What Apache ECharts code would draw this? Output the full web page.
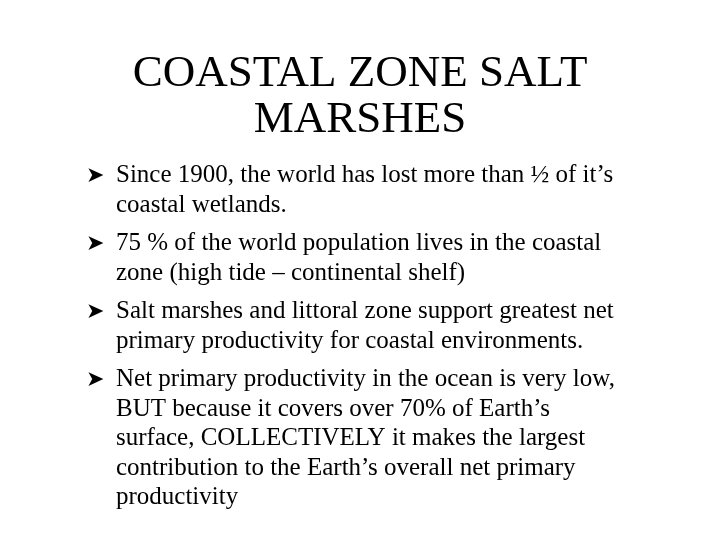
<!DOCTYPE html>
<html>
<head>
<meta charset="utf-8">
<script src="https://cdn.jsdelivr.net/npm/echarts@6/dist/echarts.min.js"></script>
<style>
  html, body { margin: 0; padding: 0; background: #fff; }
  #main { width: 720px; height: 540px; }
</style>
</head>
<body>
<div id="main"></div>
<script>
const titleLines = ['COASTAL ZONE SALT', 'MARSHES'];
const bullets = [
  ['Since 1900, the world has lost more than \u00bd of it\u2019s', 'coastal wetlands.'],
  ['75 % of the world population lives in the coastal', 'zone (high tide \u2013 continental shelf)'],
  ['Salt marshes and littoral zone support greatest net', 'primary productivity for coastal environments.'],
  ['Net primary productivity in the ocean is very low,', 'BUT because it covers over 70% of Earth\u2019s',
   'surface, COLLECTIVELY it makes the largest', 'contribution to the Earth\u2019s overall net primary',
   'productivity']
];

const chart = echarts.init(document.getElementById('main'));
const serif = '"Liberation Serif", "DejaVu Serif", serif';
const graphic = [];

titleLines.forEach((t, i) => {
  graphic.push({
    type: 'text', left: 'center', top: 52 + i * 46,
    style: { text: t, font: '45px ' + serif, fill: '#000' }
  });
});

let y = 163;
bullets.forEach(lines => {
  graphic.push({
    type: 'text', left: 86, top: y + 2,
    style: { text: '\u27a4', font: '22px "DejaVu Sans"', fill: '#000' }
  });
  lines.forEach(l => {
    graphic.push({
      type: 'text', left: 116, top: y,
      style: { text: l, font: '25px ' + serif, fill: '#000' }
    });
    y += 29.5;
  });
  y += 9;
});

chart.setOption({ backgroundColor: '#fff', graphic: graphic });
</script>
</body>
</html>
